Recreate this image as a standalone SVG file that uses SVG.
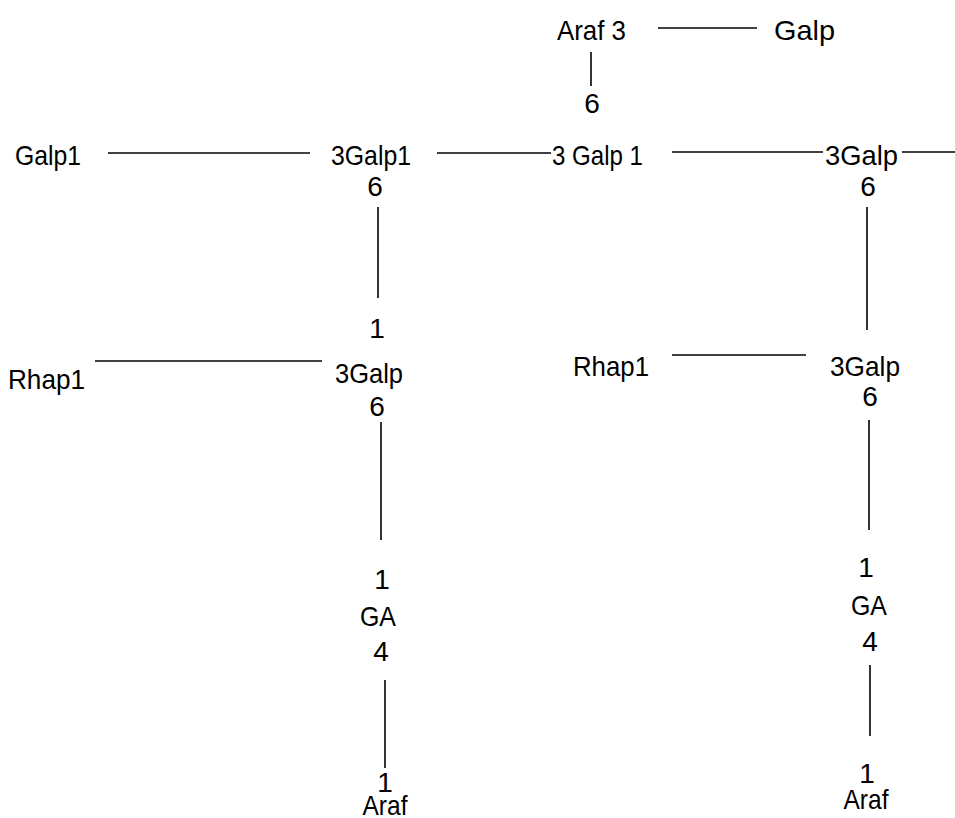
<svg xmlns="http://www.w3.org/2000/svg" width="955" height="818" viewBox="0 0 955 818">
  <style>
    text { font-family: "Liberation Sans", Arial, sans-serif; font-size: 28px; fill: #000; }
    .c { text-anchor: middle; }
    #links line { stroke: #000; stroke-width: 1.6; }
  </style>
  <rect width="955" height="818" fill="#fff"/>

  <g id="links">
    <!-- top branch -->
    <line x1="658" y1="28" x2="757" y2="28"/>
    <line x1="591" y1="52" x2="591" y2="86"/>
    <!-- main chain -->
    <line x1="108" y1="153" x2="310" y2="153"/>
    <line x1="437" y1="153" x2="551" y2="153"/>
    <line x1="672" y1="152" x2="823" y2="152"/>
    <line x1="902" y1="152" x2="955" y2="152"/>
    <!-- left column -->
    <line x1="378" y1="207" x2="378" y2="298"/>
    <line x1="95" y1="361" x2="322" y2="361"/>
    <line x1="381" y1="422" x2="381" y2="540"/>
    <line x1="385" y1="680" x2="385" y2="768"/>
    <!-- right column -->
    <line x1="867" y1="207" x2="867" y2="330"/>
    <line x1="672" y1="355" x2="806" y2="355"/>
    <line x1="869" y1="420" x2="869" y2="530"/>
    <line x1="870" y1="665" x2="870" y2="736"/>
  </g>

  <g id="araf-top"><text x="557" y="40" textLength="69" lengthAdjust="spacingAndGlyphs">Araf 3</text><text class="c" x="592" y="113">6</text></g>
  <g id="galp-top"><text x="774" y="40" textLength="61" lengthAdjust="spacingAndGlyphs">Galp</text></g>

  <g id="galp1"><text x="15" y="165" textLength="66" lengthAdjust="spacingAndGlyphs">Galp1</text></g>
  <g id="galp-3-1-left"><text x="331" y="165" textLength="80" lengthAdjust="spacingAndGlyphs">3Galp1</text><text class="c" x="375" y="196">6</text></g>
  <g id="galp-3-1-mid"><text x="552" y="165" textLength="91" lengthAdjust="spacingAndGlyphs">3 Galp 1</text></g>
  <g id="galp-3-right"><text x="825" y="165" textLength="73" lengthAdjust="spacingAndGlyphs">3Galp</text><text class="c" x="868" y="196">6</text></g>

  <g id="galp-left"><text class="c" x="377" y="338">1</text><text x="335" y="383" textLength="68" lengthAdjust="spacingAndGlyphs">3Galp</text><text class="c" x="377" y="416">6</text></g>
  <g id="rhap-left"><text x="8" y="389" textLength="77" lengthAdjust="spacingAndGlyphs">Rhap1</text></g>

  <g id="rhap-right"><text x="573" y="376" textLength="76" lengthAdjust="spacingAndGlyphs">Rhap1</text></g>
  <g id="galp-right"><text x="830" y="376" textLength="70" lengthAdjust="spacingAndGlyphs">3Galp</text><text class="c" x="870" y="406">6</text></g>

  <g id="ga-left"><text class="c" x="382" y="589">1</text><text class="c" x="378" y="626" textLength="36" lengthAdjust="spacingAndGlyphs">GA</text><text class="c" x="381" y="661">4</text></g>
  <g id="ga-right"><text class="c" x="866" y="577">1</text><text class="c" x="869" y="615" textLength="36" lengthAdjust="spacingAndGlyphs">GA</text><text class="c" x="870" y="651">4</text></g>

  <g id="araf-left"><text class="c" x="385" y="792">1</text><text class="c" x="385" y="815" textLength="45" lengthAdjust="spacingAndGlyphs">Araf</text></g>
  <g id="araf-right"><text class="c" x="867" y="783">1</text><text class="c" x="866" y="809" textLength="45" lengthAdjust="spacingAndGlyphs">Araf</text></g>
</svg>
